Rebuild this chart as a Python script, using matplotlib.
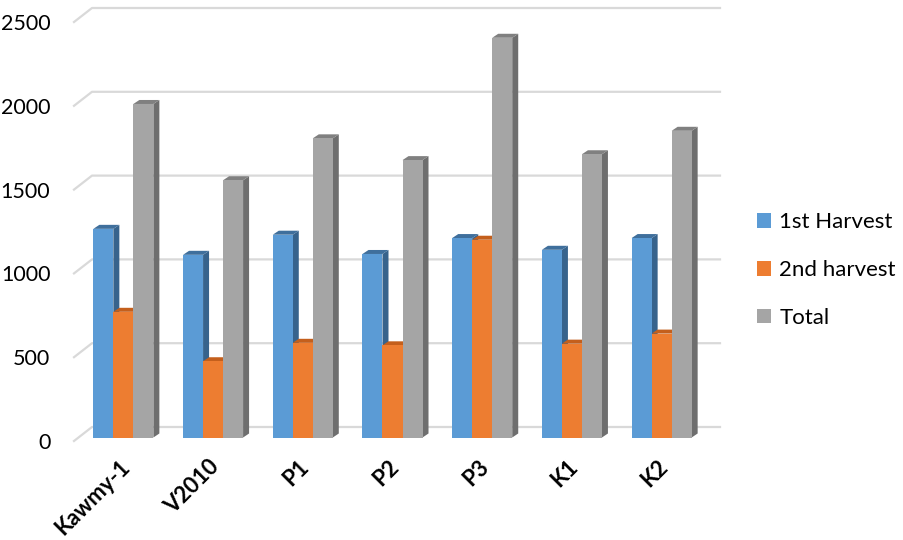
import numpy as np
import matplotlib.pyplot as plt
from matplotlib.patches import Polygon, Patch
from matplotlib.transforms import IdentityTransform, offset_copy

varieties = ['Kawmy-1', 'V2010', 'P1', 'P2', 'P3', 'K1', 'K2']
first_harvest = [1245, 1090, 1210, 1095, 1190, 1120, 1190]
second_harvest = [750, 455, 565, 550, 1180, 560, 620]
total = [1990, 1535, 1785, 1655, 2385, 1690, 1830]
yticks = [0, 500, 1000, 1500, 2000, 2500]

# name, values, front, top, side
series = [
    ('1st Harvest', first_harvest, '#5b9bd5', '#3f6f9c', '#37638c'),
    ('2nd harvest', second_harvest, '#ed7d31', '#c45f1c', '#b9591a'),
    ('Total', total, '#a5a5a5', '#808080', '#6e6e6e'),
]

plt.rcParams['font.family'] = ['Lato', 'DejaVu Sans']

fig = plt.figure(figsize=(9.04, 5.4), dpi=100)
ax = fig.add_axes([74/904, 1-441/540, 628/904, 419/540])
ax.set_xlim(-0.5, 6.5)
ax.set_ylim(0, 2500)
ax.set_autoscale_on(False)
for s in ax.spines.values():
    s.set_visible(False)

# pseudo 3d offsets in pixels (display coords, y up)
back = np.array([18, 14])
front = np.array([4.5, 3.5])
depth = np.array([6, 4])

def px(x, y, off):
    return ax.transData.transform((x, y)) + off

# back wall grid + left wall lines
for v in yticks:
    a = px(-0.5, v, back)
    b = px(6.5, v, back)
    c = px(-0.5, v, np.zeros(2))
    ax.plot([c[0], a[0], b[0]], [c[1], a[1], b[1]], color='#d9d9d9', lw=1.6,
            transform=IdentityTransform(), clip_on=False, zorder=0)

w = 0.223
xs = np.arange(len(varieties))
front_tr = offset_copy(ax.transData, fig=fig, x=front[0], y=front[1], units='dots')

z = 2
for i in xs:
    for j, (name, vals, cf, ct, cs) in enumerate(series):
        v = vals[i]
        xc = i + (j - 1) * w
        x0, x1 = xc - w/2, xc + w/2
        side = [px(x1, 0, front), px(x1, 0, front+depth), px(x1, v, front+depth), px(x1, v, front)]
        top = [px(x0, v, front), px(x1, v, front), px(x1, v, front+depth), px(x0, v, front+depth)]
        ax.add_patch(Polygon(side, closed=True, fc=cs, ec='none', transform=IdentityTransform(),
                             clip_on=False, zorder=z))
        ax.add_patch(Polygon(top, closed=True, fc=ct, ec='none', transform=IdentityTransform(),
                             clip_on=False, zorder=z))
        ax.bar(xc, v, w, color=cf, transform=front_tr, clip_on=False, zorder=z + 0.5)
        z += 1

ax.set_yticks(yticks)
ax.set_yticklabels([str(t) for t in yticks])
ax.tick_params(axis='y', length=0, pad=17, labelsize=15.5)
ax.set_xticks(xs)
ax.set_xticklabels(varieties, rotation=45, ha='right', rotation_mode='anchor',
                   fontsize=16, fontweight='bold')
ax.tick_params(axis='x', length=0, pad=11)
for lab in ax.get_xticklabels():
    lab.set_x(lab.get_position()[0] + 0.06)

handles = [Patch(facecolor=s[2], edgecolor='none') for s in series]
fig.legend(handles, [s[0] for s in series], loc='center left',
           bbox_to_anchor=(737/904, 1-270/540), frameon=False, fontsize=16,
           handlelength=0.65, handleheight=0.65, handletextpad=0.35, labelspacing=1.25)

fig.savefig('out.png', dpi=100)
